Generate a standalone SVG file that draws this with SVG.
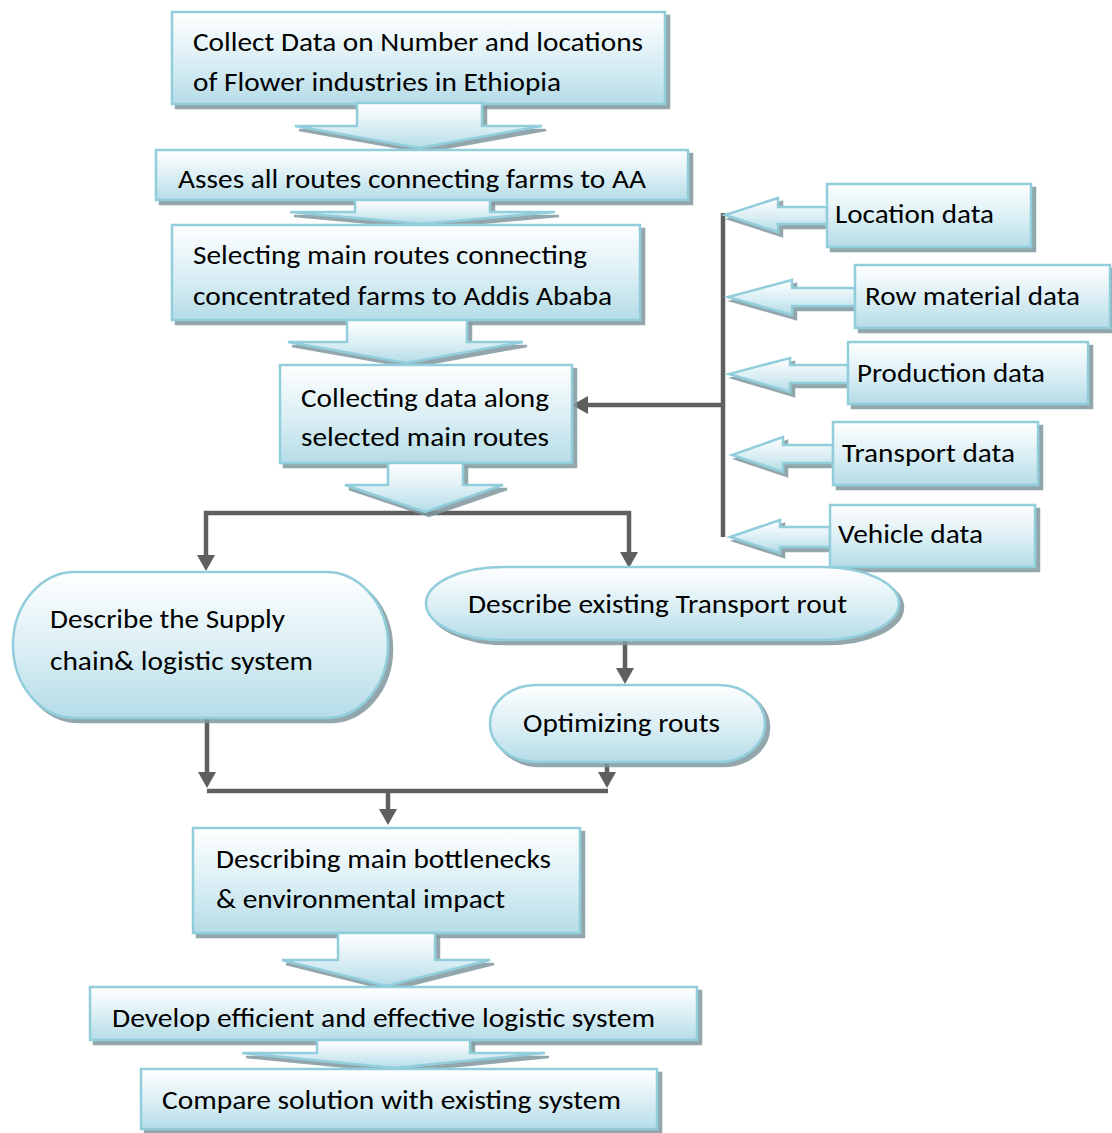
<svg xmlns="http://www.w3.org/2000/svg" width="1112" height="1133" viewBox="0 0 1112 1133">
  <defs>
    <linearGradient id="fill" x1="0" y1="0" x2="0" y2="1">
      <stop offset="0" stop-color="#ffffff"/>
      <stop offset="0.55" stop-color="#d9eef4"/>
      <stop offset="1" stop-color="#b5dce7"/>
    </linearGradient>
    <filter id="shadow" x="-10%" y="-10%" width="125%" height="140%">
      <feOffset in="SourceAlpha" dx="4" dy="4" result="off"/>
      <feFlood flood-color="#7f979e" flood-opacity="0.85"/>
      <feComposite in2="off" operator="in"/>
      <feMerge>
        <feMergeNode/>
        <feMergeNode in="SourceGraphic"/>
      </feMerge>
    </filter>
    <marker id="head" viewBox="0 0 16 18" refX="4" refY="9" markerWidth="16" markerHeight="18" markerUnits="userSpaceOnUse" orient="auto">
      <path d="M0,0 L16,9 L0,18 Z" fill="#5f5f5f"/>
    </marker>
  </defs>
  <style>
    .shape { fill: url(#fill); stroke: #92cddc; stroke-width: 2.5; filter: url(#shadow); }
    .label { font-family: "Carlito", "Lato", "Liberation Sans", sans-serif; font-size: 26.5px; fill: #000000; }
    .wire { fill: none; stroke: #5f5f5f; stroke-width: 4.5; stroke-linejoin: miter; }
    .wire.arrow { marker-end: url(#head); }
  </style>

  <rect width="1112" height="1133" fill="#ffffff"/>

  <!-- connectors -->
  <g id="connectors">
    <path class="wire arrow" d="M425,513 H206 V559"/>
    <path class="wire arrow" d="M425,513 H629 V556"/>
    <path class="wire arrow" d="M625,640 V672"/>
    <path class="wire arrow" d="M207,718 V776"/>
    <path class="wire arrow" d="M607,762 V776"/>
    <path class="wire" d="M207,791 H608"/>
    <path class="wire arrow" d="M388,791 V813"/>
    <path class="wire" d="M723,213 V537"/>
    <path class="wire arrow" d="M723,405 H584"/>
  </g>

  <!-- main process chain -->
  <g id="collect-data">
    <rect class="shape" x="172" y="12" width="493" height="92"/>
    <text class="label" x="193" y="51" textLength="450" lengthAdjust="spacingAndGlyphs">Collect Data on Number and locations</text>
    <text class="label" x="193" y="91" textLength="368" lengthAdjust="spacingAndGlyphs">of Flower industries in Ethiopia</text>
  </g>
  <g id="arrow-1">
    <polygon class="shape" points="357,103 482,103 482,126 542,126 419,148 295,126 357,126"/>
  </g>

  <g id="assess-routes">
    <rect class="shape" x="156" y="150" width="532" height="50"/>
    <text class="label" x="178" y="188" textLength="468" lengthAdjust="spacingAndGlyphs">Asses all routes connecting farms to AA</text>
  </g>
  <g id="arrow-2">
    <polygon class="shape" points="355,200 490,200 490,212 555,212 422,224 290,212 355,212"/>
  </g>

  <g id="select-routes">
    <rect class="shape" x="172" y="225" width="468" height="95"/>
    <text class="label" x="193" y="264" textLength="394" lengthAdjust="spacingAndGlyphs">Selecting main routes connecting</text>
    <text class="label" x="193" y="305" textLength="419" lengthAdjust="spacingAndGlyphs">concentrated farms to Addis Ababa</text>
  </g>
  <g id="arrow-3">
    <polygon class="shape" points="347,320 467,320 467,342 523,342 406,363 288,342 347,342"/>
  </g>

  <g id="collect-route-data">
    <rect class="shape" x="280" y="365" width="292" height="98"/>
    <text class="label" x="301" y="407" textLength="248" lengthAdjust="spacingAndGlyphs">Collecting data along</text>
    <text class="label" x="301" y="446" textLength="248" lengthAdjust="spacingAndGlyphs">selected main routes</text>
  </g>
  <g id="arrow-4">
    <polygon class="shape" points="388,463 463,463 463,485 503,485 425,512 345,485 388,485"/>
  </g>

  <!-- data sources feeding the route survey -->
  <g id="location-data">
    <polygon class="shape" points="827,207 778,207 778,198 725,215 778,232 778,224 827,224"/>
    <rect class="shape" x="827" y="184" width="204" height="63"/>
    <text class="label" x="835" y="223" textLength="159" lengthAdjust="spacingAndGlyphs">Location data</text>
  </g>
  <g id="row-material-data">
    <polygon class="shape" points="855,288 792,288 792,280 728,297 792,315 792,306 855,306"/>
    <rect class="shape" x="855" y="265" width="255" height="63"/>
    <text class="label" x="865" y="305" textLength="215" lengthAdjust="spacingAndGlyphs">Row material data</text>
  </g>
  <g id="production-data">
    <polygon class="shape" points="848,365 790,365 790,358 729,374 790,392 790,383 848,383"/>
    <rect class="shape" x="848" y="342" width="240" height="62"/>
    <text class="label" x="857" y="382" textLength="188" lengthAdjust="spacingAndGlyphs">Production data</text>
  </g>
  <g id="transport-data">
    <polygon class="shape" points="833,445 783,445 783,437 732,455 783,472 783,463 833,463"/>
    <rect class="shape" x="833" y="422" width="205" height="63"/>
    <text class="label" x="842" y="462" textLength="173" lengthAdjust="spacingAndGlyphs">Transport data</text>
  </g>
  <g id="vehicle-data">
    <polygon class="shape" points="830,527 780,527 780,520 730,537 780,553 780,547 830,547"/>
    <rect class="shape" x="830" y="505" width="205" height="62"/>
    <text class="label" x="838" y="543" textLength="145" lengthAdjust="spacingAndGlyphs">Vehicle data</text>
  </g>

  <!-- analysis branches -->
  <g id="supply-chain">
    <rect class="shape" x="13" y="572" width="375" height="146" rx="62" ry="73"/>
    <text class="label" x="50" y="628" textLength="235" lengthAdjust="spacingAndGlyphs">Describe the Supply</text>
    <text class="label" x="50" y="670" textLength="263" lengthAdjust="spacingAndGlyphs">chain&amp; logistic system</text>
  </g>
  <g id="transport-route">
    <rect class="shape" x="426" y="567" width="473" height="73" rx="76" ry="36.5"/>
    <text class="label" x="468" y="613" textLength="379" lengthAdjust="spacingAndGlyphs">Describe existing Transport rout</text>
  </g>
  <g id="optimizing-routes">
    <rect class="shape" x="490" y="685" width="275" height="77" rx="46" ry="38.5"/>
    <text class="label" x="523" y="732" textLength="197" lengthAdjust="spacingAndGlyphs">Optimizing routs</text>
  </g>

  <!-- synthesis -->
  <g id="bottlenecks">
    <rect class="shape" x="193" y="828" width="387" height="105"/>
    <text class="label" x="216" y="868" textLength="335" lengthAdjust="spacingAndGlyphs">Describing main bottlenecks</text>
    <text class="label" x="216" y="908" textLength="289" lengthAdjust="spacingAndGlyphs">&amp; environmental impact</text>
  </g>
  <g id="arrow-5">
    <polygon class="shape" points="338,933 435,933 435,960 490,960 386,986 282,960 338,960"/>
  </g>

  <g id="develop-system">
    <rect class="shape" x="90" y="987" width="607" height="53"/>
    <text class="label" x="112" y="1027" textLength="543" lengthAdjust="spacingAndGlyphs">Develop efficient and effective logistic system</text>
  </g>
  <g id="arrow-6">
    <polygon class="shape" points="317,1040 470,1040 470,1053 545,1053 394,1068 242,1053 317,1053"/>
  </g>

  <g id="compare-solution">
    <rect class="shape" x="141" y="1069" width="516" height="60"/>
    <text class="label" x="162" y="1109" textLength="459" lengthAdjust="spacingAndGlyphs">Compare solution with existing system</text>
  </g>
</svg>
